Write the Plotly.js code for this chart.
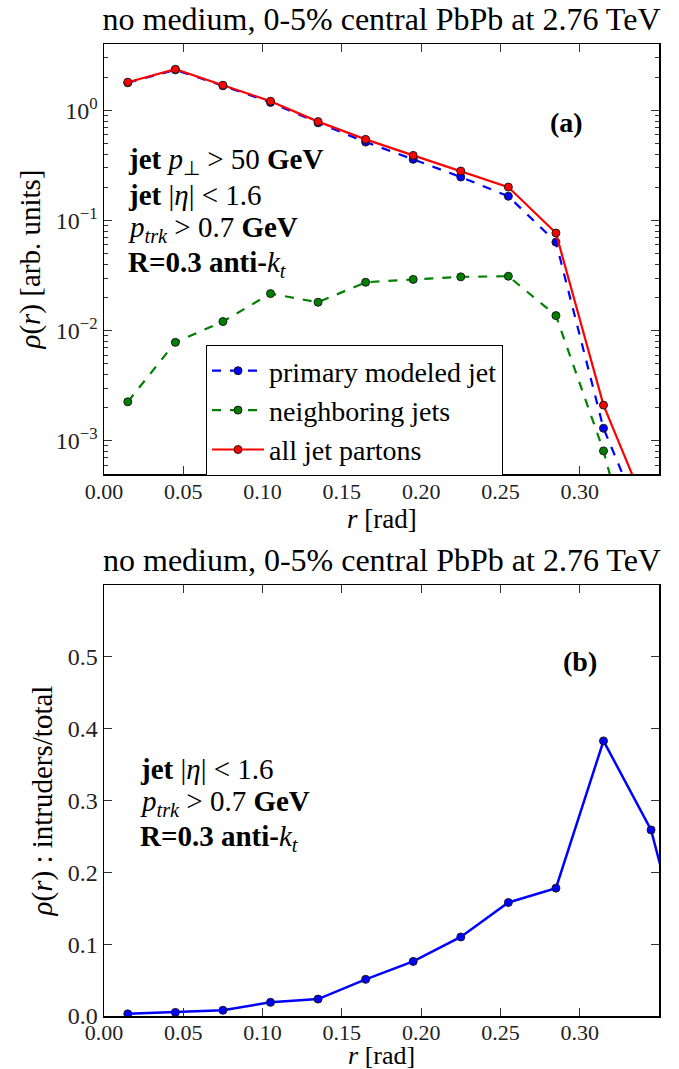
<!DOCTYPE html>
<html>
<head>
<meta charset="utf-8">
<script src="https://cdn.plot.ly/plotly-3.0.1.min.js"></script>
<style>html,body{margin:0;padding:0;background:#fff;}</style>
</head>
<body>
<div id="chart" style="width:679px;height:1069px;"></div>
<script>
// ---- data ----
const rTop = [0.015, 0.045, 0.075, 0.105, 0.135, 0.165, 0.195, 0.225, 0.255, 0.285, 0.315, 0.345];
const primaryJet   = [1.78, 2.33, 1.67, 1.18, 0.77, 0.515, 0.359, 0.248, 0.166, 0.0636, 0.0013, 0.00012];
const neighborJets = [0.00226, 0.00783, 0.0121, 0.0217, 0.0181, 0.0275, 0.0292, 0.0308, 0.0312, 0.0137, 0.00081, 0.00002];
const allPartons   = [1.80, 2.36, 1.69, 1.21, 0.79, 0.545, 0.39, 0.281, 0.201, 0.077, 0.00211, 0.00019];
const seriesNames  = ['primary modeled jet', 'neighboring jets', 'all jet partons'];

const rBot = [0.015, 0.045, 0.075, 0.105, 0.135, 0.165, 0.195, 0.225, 0.255, 0.285, 0.315, 0.345, 0.375];
const intruderFrac = [0.003, 0.005, 0.008, 0.019, 0.0236, 0.051, 0.076, 0.110, 0.158, 0.178, 0.383, 0.259, 0.005];

const xTickVals = [0, 0.05, 0.10, 0.15, 0.20, 0.25, 0.30];
const xTickText = ['0.00', '0.05', '0.10', '0.15', '0.20', '0.25', '0.30'];
const yTopTickVals = [0.001, 0.01, 0.1, 1];
const yTopTickText = ['10<sup>−3</sup>', '10<sup>−2</sup>', '10<sup>−1</sup>', '10<sup>0</sup>'];
const yTopMinorVals = [6e-4, 7e-4, 8e-4, 9e-4,
  2e-3, 3e-3, 4e-3, 5e-3, 6e-3, 7e-3, 8e-3, 9e-3,
  2e-2, 3e-2, 4e-2, 5e-2, 6e-2, 7e-2, 8e-2, 9e-2,
  0.2, 0.3, 0.4, 0.5, 0.6, 0.7, 0.8, 0.9, 2, 3];
const yBotTickVals = [0, 0.1, 0.2, 0.3, 0.4, 0.5];
const yBotTickText = ['0.0', '0.1', '0.2', '0.3', '0.4', '0.5'];

const titleText = 'no medium, 0-5% central PbPb at 2.76 TeV';
const xTitleText = '<i>r</i> [rad]';

// ---- layout helpers (pixel -> paper) ----
const W = 679, H = 1069, ML = 104, MR = 20, MT = 44, MB = 53;
const PW = W - ML - MR, PH = H - MT - MB;
const px = x => (x - ML) / PW;
const py = y => (H - MB - y) / PH;

const FONT = 'Liberation Serif';
const TXT = 29;
const mk = (c) => ({symbol: 'circle', size: 8, color: c, line: {color: '#1a1a1a', width: 1}});

const traces = [
  {x: rTop, y: primaryJet, name: seriesNames[0], type: 'scatter', mode: 'lines+markers',
   line: {color: '#0000ff', width: 2.2, dash: 'dash'}, marker: mk('#0000ff'), xaxis: 'x', yaxis: 'y'},
  {x: rTop, y: neighborJets, name: seriesNames[1], type: 'scatter', mode: 'lines+markers',
   line: {color: '#008000', width: 2.2, dash: 'dash'}, marker: mk('#008000'), xaxis: 'x', yaxis: 'y'},
  {x: rTop, y: allPartons, name: seriesNames[2], type: 'scatter', mode: 'lines+markers',
   line: {color: '#ff0000', width: 2.2}, marker: mk('#ff0000'), xaxis: 'x', yaxis: 'y'},
  {x: rBot, y: intruderFrac, name: 'intruders/total', type: 'scatter', mode: 'lines+markers', showlegend: false,
   line: {color: '#0000ff', width: 2.5}, marker: mk('#0000ff'), xaxis: 'x2', yaxis: 'y2'}
];

const axBase = {
  showline: true, linecolor: '#000', linewidth: 1.5, mirror: 'allticks',
  ticks: 'inside', ticklen: 8, tickwidth: 1.2, tickcolor: '#333',
  showgrid: false, zeroline: false,
  tickfont: {family: FONT, size: 24, color: '#222'}
};
const xTickFont = {family: FONT, size: 22, color: '#222'};

const ann = (text, x, y, size, xanchor) => ({text, xref: 'paper', yref: 'paper', x: px(x), y: py(y),
  xanchor: xanchor || 'left', yanchor: 'middle', showarrow: false, font: {family: FONT, size: size || TXT, color: '#000'}});

const layout = {
  width: W, height: H,
  margin: {l: ML, r: MR, t: MT, b: MB},
  paper_bgcolor: '#fff', plot_bgcolor: '#fff',
  font: {family: FONT, color: '#000'},
  title: {text: titleText, font: {family: FONT, size: 32, color: '#000'},
          x: (ML + PW / 2) / W, xanchor: 'center', y: 1 - 19 / H, yanchor: 'middle'},
  showlegend: true,
  legend: {x: px(206), y: py(345), xanchor: 'left', yanchor: 'top',
           bgcolor: '#fff', bordercolor: '#000', borderwidth: 1,
           font: {family: FONT, size: 28, color: '#000'}, itemwidth: 52, tracegroupgap: 0},
  xaxis: Object.assign({}, axBase, {domain: [0, 1], anchor: 'y', range: [0, 0.35],
           tickvals: xTickVals, ticktext: xTickText, tickfont: xTickFont, ticklabelstandoff: -3}),
  yaxis: Object.assign({}, axBase, {domain: [py(474), 1], anchor: 'x', type: 'log',
           range: [Math.log10(5e-4), Math.log10(4)],
           tickvals: yTopTickVals, ticktext: yTopTickText,
           minor: {tickvals: yTopMinorVals, ticks: 'inside', ticklen: 4, tickcolor: '#333', tickwidth: 1, showgrid: false},
           title: {text: '<i>ρ</i>(<i>r</i>) [arb. units]', font: {family: FONT, size: 29}, standoff: 6}}),
  xaxis2: Object.assign({}, axBase, {domain: [0, 1], anchor: 'y2', range: [0, 0.35],
           tickvals: xTickVals, ticktext: xTickText, tickfont: xTickFont, ticklabelstandoff: -4}),
  yaxis2: Object.assign({}, axBase, {domain: [0, py(585)], anchor: 'x2', range: [0, 0.6],
           tickvals: yBotTickVals, ticktext: yBotTickText,
           title: {text: '<i>ρ</i>(<i>r</i>) : intruders/total', font: {family: FONT, size: 29}, standoff: 6}}),
  annotations: [
    ann(titleText, 381.5, 560, 32, 'center'),
    ann(xTitleText, 381.5, 519, 27, 'center'),
    ann(xTitleText, 381.5, 1055, 26, 'center'),
    ann('<b>(a)</b>', 566, 123, 28, 'center'),
    ann('<b>jet</b> <i>p</i><sub>⊥</sub> &gt; 50 <b>GeV</b>', 126, 161),
    ann('<b>jet</b> |<i>η</i>| &lt; 1.6', 126, 195),
    ann('<i>p</i><sub><i>trk</i></sub> &gt; 0.7 <b>GeV</b>', 126, 229),
    ann('<b>R=0.3 anti-</b><i>k</i><sub><i>t</i></sub>', 126, 264),
    ann('<b>(b)</b>', 580, 662, 28, 'center'),
    ann('<b>jet</b> |<i>η</i>| &lt; 1.6', 138, 769),
    ann('<i>p</i><sub><i>trk</i></sub> &gt; 0.7 <b>GeV</b>', 138, 803),
    ann('<b>R=0.3 anti-</b><i>k</i><sub><i>t</i></sub>', 138, 838)
  ]
};

Plotly.newPlot('chart', traces, layout, {displayModeBar: false, staticPlot: true});
</script>
</body>
</html>
